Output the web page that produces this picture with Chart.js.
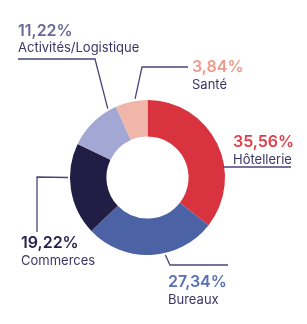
<!DOCTYPE html>
<html><head><meta charset="utf-8">
<script src="https://cdn.jsdelivr.net/npm/chart.js@4/dist/chart.umd.min.js"></script>
<style>html,body{margin:0;padding:0;background:#fff;}#wrap{width:307px;height:324px;}</style>
</head><body><div id="wrap"><canvas id="c" width="307" height="324"></canvas></div>
<script>
const categories = ['Hôtellerie', 'Bureaux', 'Commerces', 'Activités/Logistique', 'Santé'];
const sliceShares = [35.56, 27.34, 19.22, 11.22, 6.66];
const percentLabels = ['35,56%', '27,34%', '19,22%', '11,22%', '3,84%'];
const sliceColors = ['#d8333f', '#4b62a5', '#221d45', '#a2a7d3', '#f0b6a9'];
const percentColors = ['#e03f4a', '#5870b6', '#27234f', '#6b6997', '#f09988'];

// label layout: text position, leader anchor angle (deg, clockwise from top), leader path
const labelLayout = [
  {tx: 233, py: 142, ny: 160, angle: 82.5, path: [[291, 167]]},
  {tx: 168, py: 282, ny: 300, angle: 167, path: [[170, 265], [228, 265]]},
  {tx: 21, py: 243, ny: 261, angle: 270, path: [[37, 177], [37, 232]]},
  {tx: 18, py: 31, ny: 48, angle: 330, path: [[95, 59], [18, 59]]},
  {tx: 192, py: 67, ny: 85, angle: 351, path: [[142, 67], [188, 67]]}
];

const labelPlugin = {
  id: 'labels',
  afterDatasetsDraw(chart) {
    const ctx = chart.ctx;
    const arc = chart.getDatasetMeta(0).data[0];
    const cx = arc.x, cy = arc.y, r = arc.outerRadius;
    ctx.save();
    labelLayout.forEach((L, i) => {
      const a = (L.angle - 90) * Math.PI / 180;
      const rr = (i === 0) ? r - 1 : r + 2;
      ctx.beginPath();
      ctx.moveTo(cx + rr * Math.cos(a), cy + rr * Math.sin(a));
      if (i === 0) {
        ctx.moveTo(cx + rr * Math.cos(a), L.path[0][1]);
      }
      L.path.forEach(p => ctx.lineTo(p[0], p[1]));
      ctx.strokeStyle = '#4a4577';
      ctx.lineWidth = 1.3;
      ctx.stroke();
      ctx.textBaseline = 'middle';
      ctx.textAlign = 'left';
      ctx.fillStyle = percentColors[i];
      ctx.font = '600 16px Inter';
      ctx.fillText(percentLabels[i], L.tx, L.py);
      ctx.fillStyle = '#3b3668';
      ctx.font = '400 13px Inter';
      ctx.fillText(categories[i], L.tx, L.ny);
    });
    ctx.restore();
  }
};

new Chart(document.getElementById('c'), {
  type: 'doughnut',
  data: {
    labels: categories,
    datasets: [{data: sliceShares, backgroundColor: sliceColors, borderWidth: 0}]
  },
  options: {
    responsive: false,
    animation: false,
    cutout: '53%',
    layout: {padding: {left: 70, right: 82, top: 100, bottom: 69}},
    plugins: {legend: {display: false}, tooltip: {enabled: false}}
  },
  plugins: [labelPlugin]
});
</script>
</body></html>
